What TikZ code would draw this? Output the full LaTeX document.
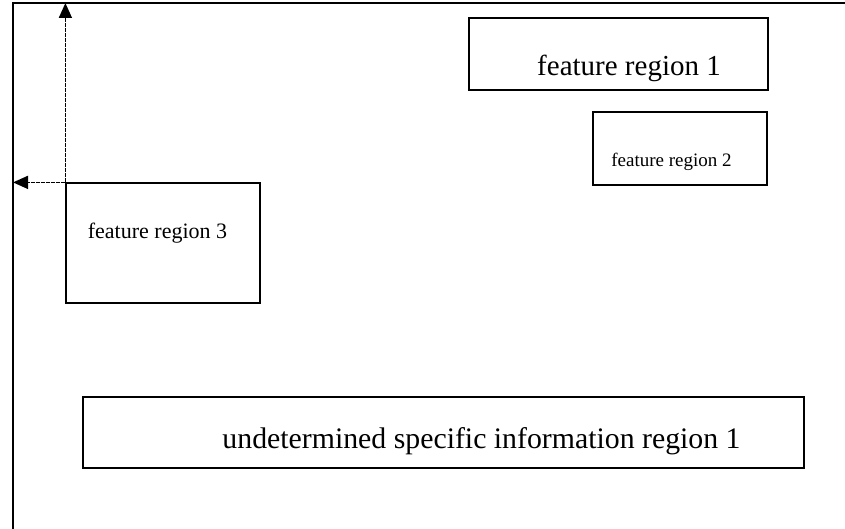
\documentclass[tikz,border=0pt]{standalone}
\usepackage{fontspec}
\setmainfont{Liberation Serif}
\usetikzlibrary{arrows.meta}
\tikzset{
  region/.style={draw, line width=1.2pt, inner sep=0pt},
  axis/.style={line width=1.6pt, dash pattern=on 4pt off 1pt, -{Triangle[length=15pt,width=13pt]}}
}
\begin{document}
\begin{tikzpicture}[x=1pt,y=-1pt]
				\useasboundingbox (0,0) rectangle (845,529);
				\coordinate (F1) at (13,529);
				\coordinate (F2) at (13,3);
				\coordinate (F3) at (845,3);
				\draw[line width=1.2pt] (F1) -- (F2) -- (F3);
				\node[region, minimum width=299pt, minimum height=72pt,
					label={[font=\fontsize{29}{34}\selectfont, xshift=10.5pt, yshift=-14pt]center:feature region 1}] (R1) at (618.5,54) {};
				\node[region, minimum width=174pt, minimum height=73pt,
					label={[font=\fontsize{19}{23}\selectfont, xshift=-8.5pt, yshift=-13pt]center:feature region 2}] (R2) at (680,148.5) {};
				\node[region, minimum width=194pt, minimum height=120pt,
					label={[font=\fontsize{22}{26}\selectfont, xshift=-5.5pt, yshift=10pt]center:feature region 3}] (R3) at (163,243) {};
				\node[region, minimum width=721pt, minimum height=71pt,
					label={[font=\fontsize{29.8}{35}\selectfont, xshift=38pt, yshift=-8.5pt]center:undetermined specific information region 1}] (U1) at (443.5,432.5) {};
				\draw[axis] (R3.north west) -- (R3.north west |- F2);
				\draw[axis] (R3.north west) -- (R3.north west -| F2);
			\end{tikzpicture}
\end{document}
